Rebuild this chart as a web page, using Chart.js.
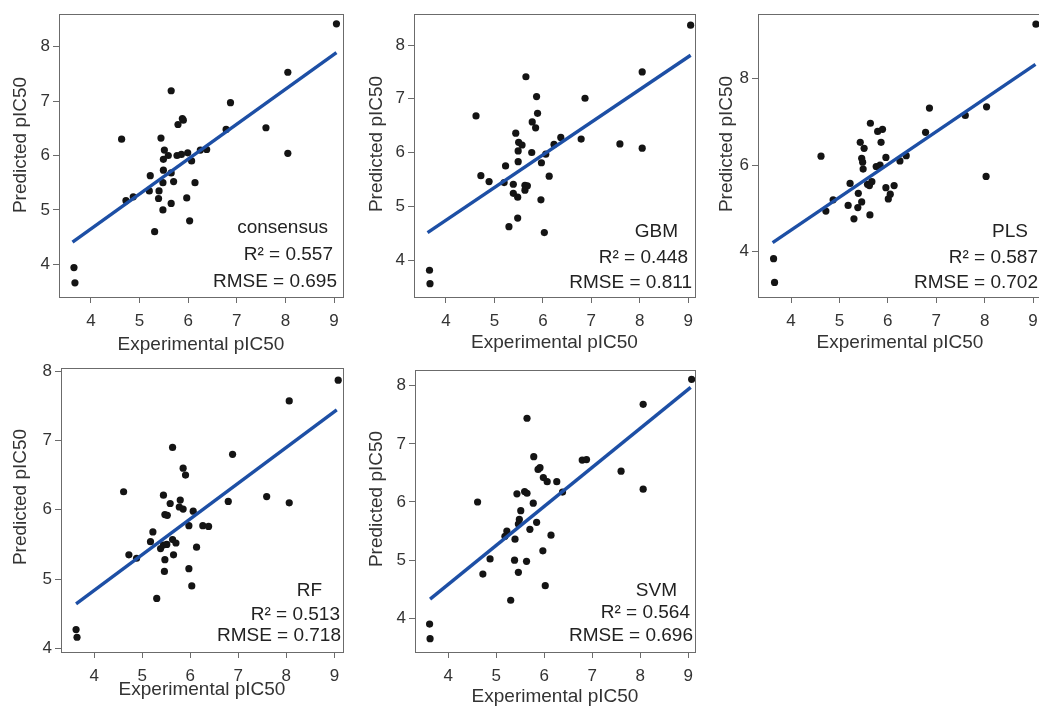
<!DOCTYPE html>
<html>
<head>
<meta charset="utf-8">
<script src="https://cdn.jsdelivr.net/npm/chart.js@4.4.1/dist/chart.umd.min.js"></script>
<style>
  html, body { margin:0; padding:0; background:#fff; width:1039px; height:707px; overflow:hidden; position:relative; }
  canvas { position:absolute; }
</style>
</head>
<body>
<canvas id="c1"></canvas>
<canvas id="c2"></canvas>
<canvas id="c3"></canvas>
<canvas id="c4"></canvas>
<canvas id="c5"></canvas>
<script>
// ---------------- data ----------------
const xTitle = "Experimental pIC50";
const yTitle = "Predicted pIC50";
const xTickValues = [4, 5, 6, 7, 8, 9];
const yTicksCommon = [4, 5, 6, 7, 8];
const yTicksPLS = [4, 6, 8];

const consensusX = [9.05,8.05,5.65,6.87,5.88,5.90,5.79,7.60,6.78,4.63,5.44,5.51,5.49,5.59,5.77,5.86,5.99,6.07,6.25,6.38,8.05,5.49,5.65,5.22,5.70,5.48,6.14,5.20,5.40,4.72,4.87,5.39,5.97,5.65,5.48,6.03,5.31,3.65,3.67];
const consensusY = [8.42,7.53,7.19,6.97,6.68,6.65,6.57,6.51,6.48,6.30,6.32,6.10,5.93,6.00,6.00,6.02,6.05,5.90,6.10,6.11,6.04,5.73,5.68,5.63,5.52,5.50,5.50,5.35,5.35,5.17,5.24,5.21,5.22,5.12,5.00,4.80,4.60,3.94,3.66];
const consensusFit = [4.41, 7.89];

const gbmX = [9.05,8.05,5.65,5.87,6.87,4.62,5.89,5.78,5.85,5.44,5.50,5.57,5.49,5.77,6.37,6.23,6.79,7.59,8.05,6.06,5.97,5.49,5.23,6.13,4.72,4.89,5.20,5.39,5.63,5.68,5.63,5.39,5.48,5.96,5.48,5.30,6.03,3.66,3.67];
const gbmY = [8.37,7.50,7.41,7.04,7.01,6.68,6.73,6.57,6.46,6.36,6.19,6.14,6.03,6.00,6.28,6.15,6.25,6.16,6.08,5.97,5.81,5.83,5.75,5.56,5.57,5.46,5.44,5.41,5.39,5.38,5.30,5.24,5.17,5.12,4.78,4.62,4.51,3.81,3.56];
const gbmFit = [4.51, 7.81];

const plsX = [9.06,8.04,6.86,7.60,6.78,5.64,5.79,5.89,5.86,5.43,5.51,4.62,5.46,5.48,5.49,5.96,6.25,6.38,5.76,5.84,8.03,5.22,5.58,5.67,5.62,5.96,6.13,5.39,6.05,6.01,4.87,5.46,4.72,5.18,5.38,5.63,5.30,3.64,3.66];
const plsY = [9.26,7.35,7.32,7.15,6.76,6.97,6.78,6.83,6.53,6.53,6.39,6.21,6.16,6.07,5.91,6.18,6.10,6.22,5.97,6.00,5.74,5.58,5.56,5.62,5.53,5.48,5.53,5.35,5.33,5.22,5.20,5.15,4.94,5.07,5.02,4.85,4.76,3.84,3.29];
const plsFit = [4.21, 8.33];

const rfX = [9.08,8.06,5.63,6.88,5.85,5.90,4.61,5.44,7.59,6.79,8.06,5.79,5.58,5.47,5.52,5.77,5.85,6.06,5.97,6.26,6.38,5.22,5.17,5.63,5.70,5.38,5.44,5.51,6.13,4.72,4.88,5.65,5.47,5.97,5.46,6.03,5.30,3.62,3.64];
const rfY = [7.87,7.57,6.90,6.80,6.60,6.50,6.26,6.21,6.19,6.12,6.10,6.14,6.09,5.93,5.92,6.04,6.01,5.98,5.77,5.77,5.76,5.68,5.54,5.57,5.52,5.44,5.49,5.50,5.46,5.35,5.30,5.35,5.28,5.15,5.11,4.90,4.72,4.27,4.16];
const rfFit = [4.64, 7.44];

const svmX = [9.07,8.06,5.64,5.78,5.87,5.91,6.79,6.88,7.60,5.98,6.06,6.26,6.38,8.06,5.43,5.59,5.64,4.61,5.77,5.51,5.48,5.46,5.84,5.70,5.22,5.18,6.14,5.39,5.97,4.87,5.38,5.63,4.72,5.46,6.02,5.30,3.61,3.62];
const svmY = [8.11,7.68,7.44,6.78,6.56,6.59,6.72,6.73,6.53,6.42,6.35,6.35,6.17,6.22,6.14,6.18,6.15,6.00,5.98,5.85,5.70,5.62,5.65,5.53,5.50,5.41,5.43,5.36,5.16,5.02,5.00,4.98,4.76,4.79,4.56,4.31,3.90,3.65];
const svmFit = [4.33, 7.97];

const fitX = [3.62, 9.05];

const labels = ["consensus", "GBM", "PLS", "RF", "SVM"];
const r2Text = ["R\u00B2 = 0.557", "R\u00B2 = 0.448", "R\u00B2 = 0.587", "R\u00B2 = 0.513", "R\u00B2 = 0.564"];
const rmseText = ["RMSE = 0.695", "RMSE = 0.811", "RMSE = 0.702", "RMSE = 0.718", "RMSE = 0.696"];

// ---------------- layout (positions/styles) ----------------
const FONT = '"Liberation Sans", Arial, Helvetica, sans-serif';
const layouts = [
  { id:'c1', left:0,   top:0,   w:352, h:360, L:59,  T:14, R:343, B:297, xmin:3.342, xmax:9.185, ymin:3.40, ymax:8.60, yt:yTicksCommon, xtPad:3.6, ytX:21, ytY:145,
    ann:[[15,69],[10,42],[6,15]] },
  { id:'c2', left:352, top:0,   w:352, h:360, L:62,  T:14, R:343, B:297, xmin:3.34, xmax:9.14, ymin:3.312, ymax:8.577, yt:yTicksCommon, xtPad:5.6, ytX:25, ytY:144,
    ann:[[17,65],[7,39],[3,14]] },
  { id:'c3', left:704, top:0,   w:352, h:360, L:54,  T:14, R:338, B:297, xmin:3.318, xmax:9.185, ymin:2.953, ymax:9.496, yt:yTicksPLS, xtPad:5.6, ytX:23, ytY:144,
    ann:[[14,65],[4,39],[4,14]] },
  { id:'c4', left:0,   top:355, w:352, h:352, L:61,  T:12, R:343, B:297, xmin:3.306, xmax:9.18, ymin:3.947, ymax:8.043, yt:yTicksCommon, xtPad:5.6, ytX:21, ytY:142,
    ann:[[21,61],[3,37],[2,16]] },
  { id:'c5', left:352, top:355, w:352, h:353, L:63,  T:15, R:343, B:297, xmin:3.306, xmax:9.14, ymin:3.42, ymax:8.27, yt:yTicksCommon, xtPad:0, ytX:25, ytY:144,
    ann:[[18,61],[5,39],[2,16]] }
];
const series = [
  [consensusX, consensusY, consensusFit],
  [gbmX, gbmY, gbmFit],
  [plsX, plsY, plsFit],
  [rfX, rfY, rfFit],
  [svmX, svmY, svmFit]
];

const boxPlugin = {
  id: 'boxAndText',
  afterDraw(chart, args, opts) {
    const {ctx, chartArea: a} = chart;
    ctx.save();
    ctx.strokeStyle = '#6b6b6b';
    ctx.lineWidth = 1;
    ctx.strokeRect(Math.round(a.left) + 0.5, Math.round(a.top) + 0.5, Math.round(a.right - a.left), Math.round(a.bottom - a.top));
    // y title
    ctx.fillStyle = '#333';
    ctx.font = '19px ' + FONT;
    ctx.textAlign = 'center';
    ctx.textBaseline = 'middle';
    ctx.translate(opts.ytX, opts.ytY);
    ctx.rotate(-Math.PI / 2);
    ctx.fillText(yTitle, 0, 0);
    ctx.restore();
    // annotations
    ctx.save();
    ctx.fillStyle = '#222';
    ctx.font = '19px ' + FONT;
    ctx.textAlign = 'right';
    ctx.textBaseline = 'middle';
    const lines = [labels[opts.i], r2Text[opts.i], rmseText[opts.i]];
    lines.forEach((t, k) => {
      ctx.fillText(t, a.right - opts.ann[k][0], a.bottom - opts.ann[k][1]);
    });
    ctx.restore();
  }
};

layouts.forEach((lay, i) => {
  const cv = document.getElementById(lay.id);
  cv.style.left = lay.left + 'px';
  cv.style.top = lay.top + 'px';
  cv.style.width = lay.w + 'px';
  cv.style.height = lay.h + 'px';
  cv.width = lay.w; cv.height = lay.h;
  const [xs, ys, fit] = series[i];
  const pts = xs.map((x, k) => ({x: x, y: ys[k]}));
  const line = fitX.map((x, k) => ({x: x, y: fit[k]}));
  new Chart(cv, {
    type: 'scatter',
    data: {
      datasets: [
        { type:'line', data: line, borderColor:'#1d4fa5', borderWidth:3.4, pointRadius:0, fill:false, order:0, borderCapStyle:'butt' },
        { data: pts, backgroundColor:'#141414', borderColor:'#141414', borderWidth:0, pointRadius:3.6, order:1 }
      ]
    },
    options: {
      responsive:false, animation:false, devicePixelRatio:1,
      layout: { padding: { left:0, top:lay.T, right: lay.w - lay.R, bottom:0 } },
      plugins: { legend:{display:false}, tooltip:{enabled:false}, boxAndText: { i:i, ytX:lay.ytX, ytY:lay.ytY, ann:lay.ann } },
      scales: {
        x: {
          type:'linear', min:lay.xmin, max:lay.xmax,
          afterBuildTicks: s => { s.ticks = xTickValues.map(v => ({value:v})); },
          afterFit: s => { s.height = lay.h - lay.B; },
          ticks: { font:{size:17, family:FONT}, color:'#333', padding:8, callback: v => String(v) },
          grid: { drawOnChartArea:false, drawTicks:true, tickLength:6, color:'#6b6b6b' },
          border: { display:true, color:'#6b6b6b' },
          title: { display:true, text:xTitle, color:'#333', font:{size:19, family:FONT}, padding:{top:0, bottom:lay.xtPad} }
        },
        y: {
          type:'linear', min:lay.ymin, max:lay.ymax,
          afterBuildTicks: s => { s.ticks = lay.yt.map(v => ({value:v})); },
          afterFit: s => { s.width = lay.L; },
          ticks: { font:{size:17, family:FONT}, color:'#333', padding:3, callback: v => String(v) },
          grid: { drawOnChartArea:false, drawTicks:true, tickLength:6, color:'#6b6b6b' },
          border: { display:true, color:'#6b6b6b' },
          title: { display:false }
        }
      }
    },
    plugins: [boxPlugin]
  });
});
</script>
</body>
</html>
